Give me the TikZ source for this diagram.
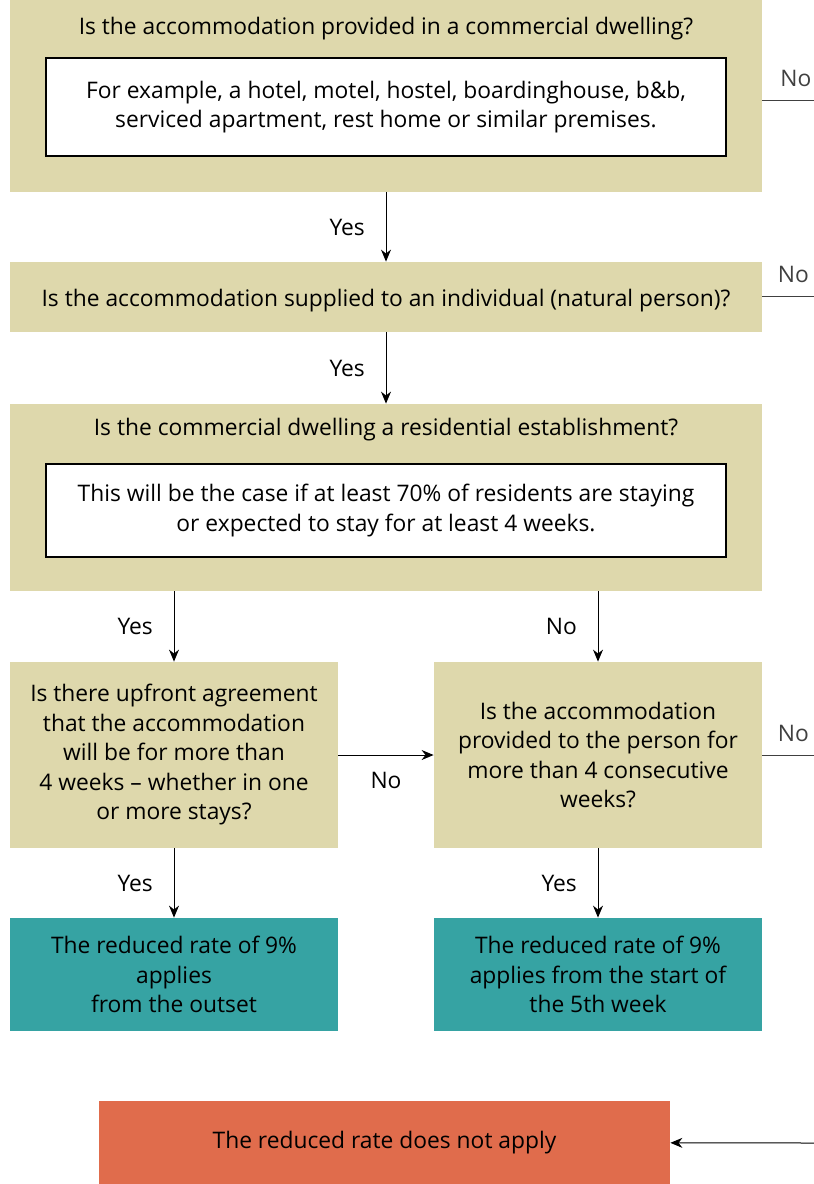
\documentclass[tikz,border=0pt]{standalone}
\usepackage{fontspec}
\setmainfont{Open Sans}
\usetikzlibrary{arrows.meta,positioning,backgrounds,calc}

\definecolor{Tan}{HTML}{DED8AC}
\definecolor{Teal}{HTML}{36A3A3}
\definecolor{Coral}{HTML}{E06C4C}

\begin{document}
\begin{tikzpicture}[
  x=0.5pt,y=-0.5pt,
  >={Stealth[length=6pt,width=5pt]},
  every node/.style={font=\fontsize{11.4}{14.75}\selectfont,align=center},
  question/.style={rectangle,fill=Tan,inner sep=0},
  note/.style={rectangle,draw=black,line width=0.7pt,fill=white,inner sep=0},
  result/.style={rectangle,fill=Teal,inner sep=0,minimum width=164pt,
    minimum height=56.5pt},
  stop/.style={rectangle,fill=Coral,inner sep=0,minimum width=285.5pt,
    minimum height=41.5pt},
  flow/.style={->,black,line width=0.5pt},
  free/.style={black!75,line width=0.5pt}
  ]
  \useasboundingbox (0,0) rectangle (814,1184);

  % questions
  \node[question,minimum width=376pt,minimum height=96pt] (q1box) at (386,96) {};
  \node (q1) at (386,29) {Is the accommodation provided in a commercial dwelling?};
  \node[note,minimum width=340pt,minimum height=49pt] (ex1) at (386,107)
    {For example, a hotel, motel, hostel, boardinghouse, b\&b,\\
     serviced apartment, rest home or similar premises.};

  \node[question,minimum width=376pt,minimum height=35pt] (q2box) at (386,297) {};
  \node (q2) at (386,301)
    {Is the accommodation supplied to an individual (natural person)?};

  \node[question,minimum width=376pt,minimum height=93.5pt] (q3box) at (386,497.5) {};
  \node (q3) at (386,430) {Is the commercial dwelling a residential establishment?};
  \node[note,minimum width=340pt,minimum height=46.5pt] (ex3) at (386,510.5)
    {This will be the case if at least 70\% of residents are staying\\
     or expected to stay for at least 4 weeks.};

  \node[question,minimum width=164pt,minimum height=93pt] (q4box) at (174,755)
    {Is there upfront agreement\\that the accommodation\\will be for more than\\
     4 weeks -- whether in one\\or more stays?};
  \node[question,minimum width=164pt,minimum height=93pt] (q5box) at (598,755)
    {Is the accommodation\\provided to the person for\\more than 4 consecutive\\weeks?};

  % outcomes
  \node[result] (r1) at (174,974.5) {The reduced rate of 9\%\\applies\\from the outset};
  \node[result] (r2) at (598,974.5) {The reduced rate of 9\%\\applies from the start of\\the 5th week};
  \node[stop] (r3) at (384.5,1142.5) {The reduced rate does not apply};

  % free ends on the right
  \coordinate (no1) at (814,100);
  \coordinate (no2) at (814,296);
  \coordinate (no5) at (814,755);
  \coordinate (no0) at (814,1143);

  \path[flow]
    (q1box) edge node[left=7pt] {Yes} (q2box)
    (q2box) edge node[left=7pt] {Yes} (q3box)
    (q3box.south -| q4box.north) edge node[left=7pt] {Yes} (q4box)
    (q3box.south -| q5box.north) edge node[left=7pt] {No} (q5box)
    (q4box) edge node[below=5pt] {No} (q5box)
    (q4box) edge node[left=7pt] {Yes} (r1)
    (q5box) edge node[left=7pt] {Yes} (r2)
    (no0) edge (r3)
    ;

  \draw[free] (q1box.east |- no1) -- node[above=3pt,pos=0.65] {No} (no1);
  \draw[free] (q2box.east |- no2) -- node[above=3pt,pos=0.6] {No} (no2);
  \draw[free] (q5box.east |- no5) -- node[above=3pt,pos=0.6] {No} (no5);
\end{tikzpicture}
\end{document}
